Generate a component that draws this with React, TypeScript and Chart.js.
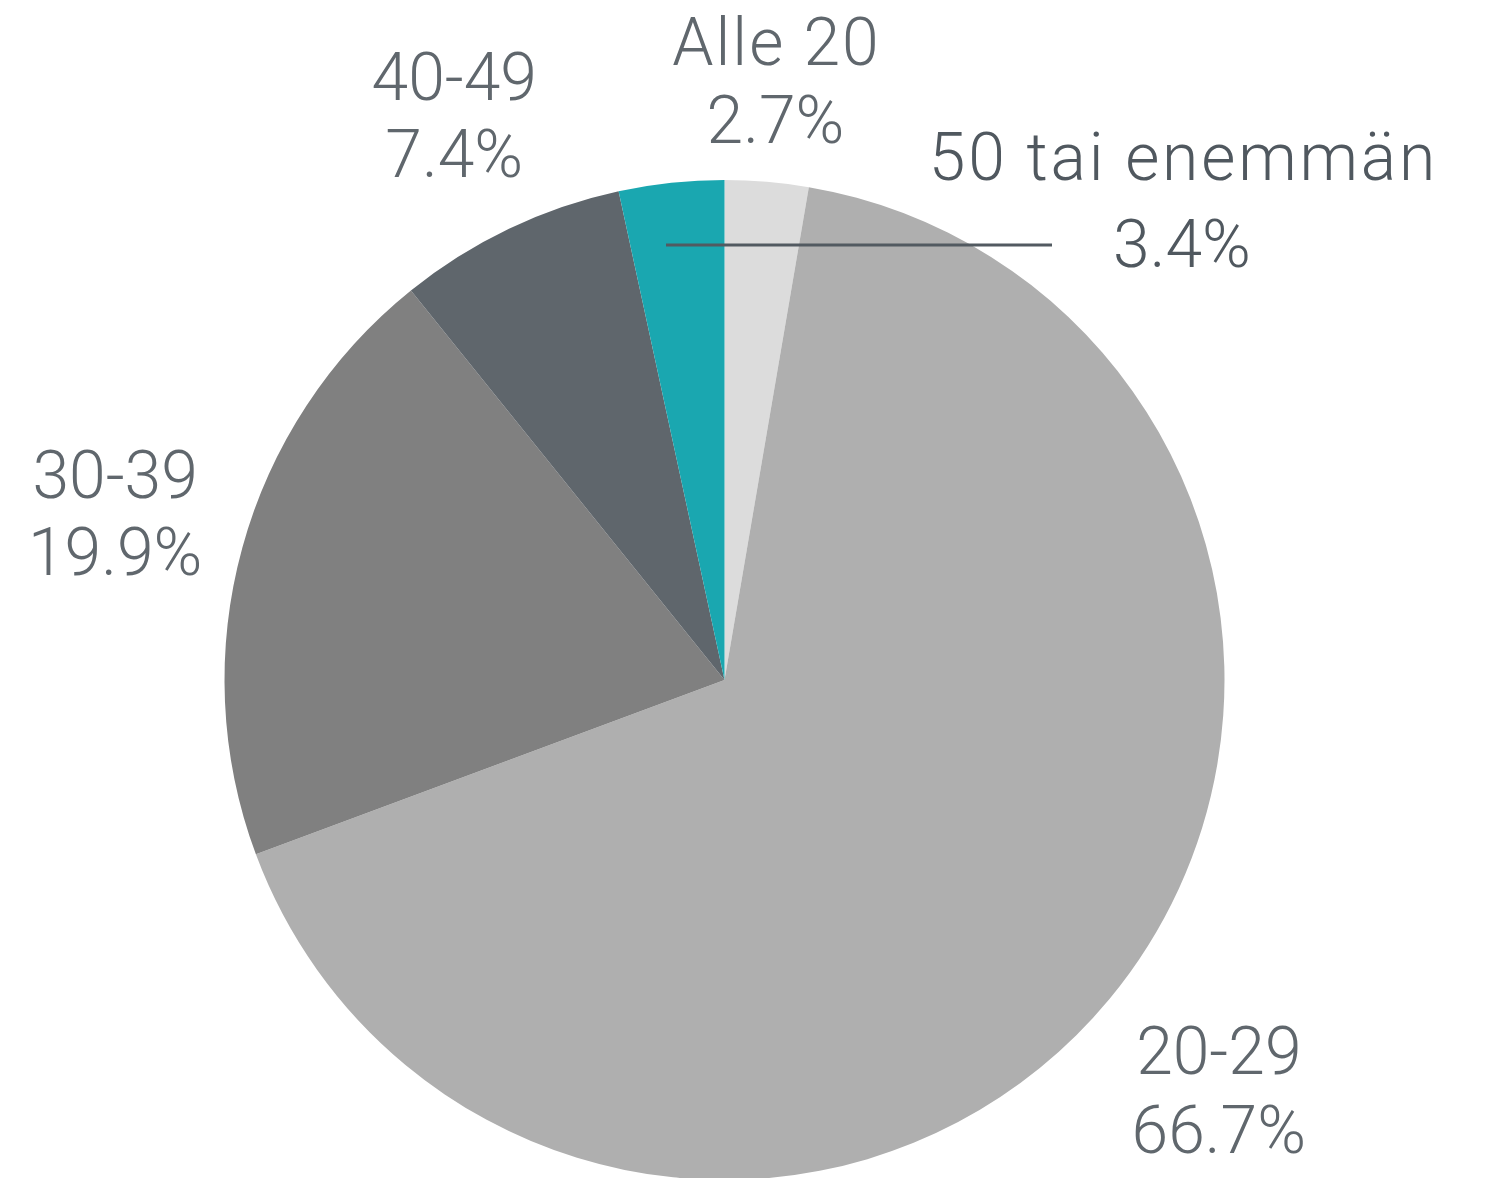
import React, { useEffect, useRef } from "react";
import { Chart, registerables } from "chart.js";

Chart.register(...registerables);

const categories = ["Alle 20", "20-29", "30-39", "40-49", "50 tai enemmän"];
const shares = [2.7, 66.7, 19.9, 7.4, 3.4];
const percentLabels = ["2.7%", "66.7%", "19.9%", "7.4%", "3.4%"];
const sliceColors = ["#dcdcdc", "#afafaf", "#808080", "#5f666c", "#1aa7b0"];

// label layout (in units of the pie radius)
const labelDistance = [1.204, 1.284, 1.264, 1.254, 0];
const labelLineGap = [78, 79, 77, 77, 87];
const labelColors = ["#60676d", "#60676d", "#60676d", "#60676d", "#50585f"];
const categorySpacing = [2, 0, 0, 0, 2.8];
const leaderIndex = 4;
const leaderStart = [-0.117, -0.87];
const leaderEndX = 0.655;
const leaderText = [0.915, -0.961];

const FONT = "300 66px Roboto, 'Open Sans', sans-serif";

const labelPlugin = {
  id: "pieLabels",
  afterDatasetsDraw(chart: any) {
    const ctx = chart.ctx;
    const meta = chart.getDatasetMeta(0);
    ctx.save();
    ctx.font = FONT;
    ctx.textAlign = "center";
    ctx.textBaseline = "alphabetic";
    meta.data.forEach((arc: any, i: number) => {
      const p = arc.getProps(["x", "y", "startAngle", "endAngle", "outerRadius"], true);
      const r = p.outerRadius;
      let px: number;
      let py: number;
      if (i === leaderIndex) {
        const sx = p.x + leaderStart[0] * r;
        const sy = p.y + leaderStart[1] * r;
        const ex = p.x + leaderEndX * r;
        ctx.strokeStyle = "#525a61";
        ctx.lineWidth = 3;
        ctx.beginPath();
        ctx.moveTo(sx, sy);
        ctx.lineTo(ex, sy);
        ctx.stroke();
        px = p.x + leaderText[0] * r;
        py = p.y + leaderText[1] * r;
      } else {
        const mid = (p.startAngle + p.endAngle) / 2;
        px = p.x + Math.cos(mid) * labelDistance[i] * r;
        py = p.y + Math.sin(mid) * labelDistance[i] * r;
      }
      const gap = labelLineGap[i];
      ctx.fillStyle = labelColors[i];
      const sp = categorySpacing[i];
      (ctx as any).letterSpacing = sp + "px";
      ctx.fillText(categories[i], px + sp / 2, py - gap / 2 + 24);
      (ctx as any).letterSpacing = "0px";
      ctx.fillText(percentLabels[i], px, py + gap / 2 + 24);
    });
    ctx.restore();
  },
};

export default function App() {
  const canvasRef = useRef<HTMLCanvasElement | null>(null);

  useEffect(() => {
    if (!canvasRef.current) return;
    const chart = new Chart(canvasRef.current, {
      type: "pie",
      data: {
        labels: categories,
        datasets: [
          {
            data: shares,
            backgroundColor: sliceColors,
            borderWidth: 0,
            radius: 500,
          } as any,
        ],
      },
      options: {
        responsive: false,
        animation: false,
        devicePixelRatio: 1,
        layout: { padding: { left: 0, right: 39, top: 182, bottom: 0 } },
        plugins: {
          legend: { display: false },
          tooltip: { enabled: false },
        },
      },
      plugins: [labelPlugin],
    });
    return () => chart.destroy();
  }, []);

  return (
    <div style={{ position: "absolute", left: 0, top: 0, width: 1488, height: 1178, background: "#fff" }}>
      <canvas ref={canvasRef} width={1488} height={1178} style={{ display: "block", width: 1488, height: 1178 }} />
    </div>
  );
}
